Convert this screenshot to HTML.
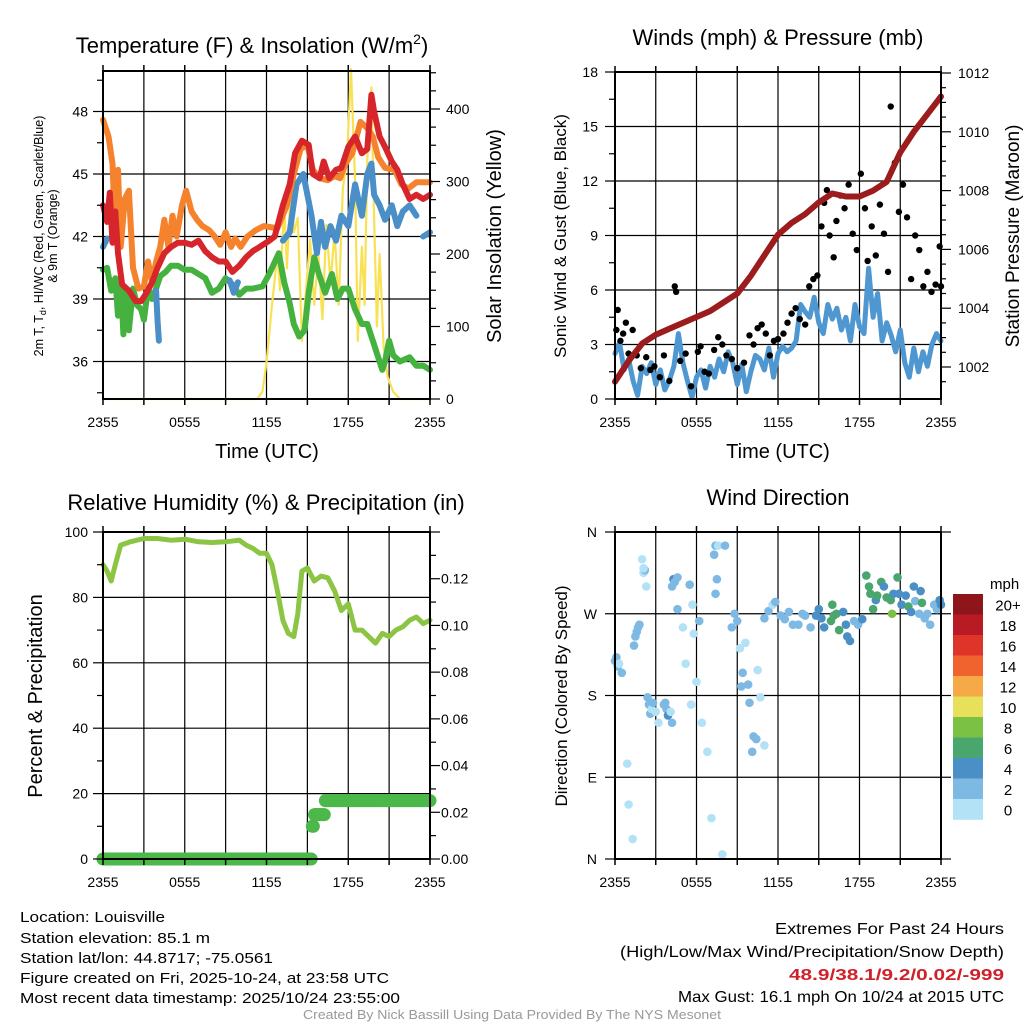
<!DOCTYPE html>
<html><head><meta charset="utf-8"><title>Mesonet Meteogram</title>
<style>
html,body{margin:0;padding:0;background:#fff;}
svg{display:block;font-family:"Liberation Sans",Arial,sans-serif;}
</style></head>
<body>
<svg id="fig" width="1024" height="1024" viewBox="0 0 1024 1024"></svg>
<script>
// ===== DATA =====
const orangeT9m = [[0,47.6],[0.4,46.8],[0.7,45.5],[0.9,42],[1.1,45.2],[1.3,41.5],[1.6,43.8],[1.9,44.2],[2.2,40.5],[2.6,39.5],[3.0,39.6],[3.3,40.8],[3.6,39.8],[3.9,40.8],[4.2,41.5],[4.5,42.8],[4.8,41.5],[5.1,43],[5.4,42],[5.8,43.5],[6.1,44.2],[6.5,43.2],[6.9,42.8],[7.3,42.5],[7.8,42.3],[8.2,42.0],[8.6,41.6],[9.0,42.2],[9.4,41.5],[9.7,41.9],[10.1,41.5],[10.6,42.0],[11.2,42.3],[11.8,42.5],[12.8,42.4],[13.5,43.5],[14.0,45],[14.5,46.2],[15.0,46.4],[15.4,45.2],[15.9,44.8],[16.5,44.7],[17.0,44.9],[17.4,44.8],[17.8,45.5],[18.3,46.0],[18.9,47.5],[19.4,47.2],[19.8,46.8],[20.2,45.8],[20.7,45.3],[21.4,45.2],[21.9,44.5],[22.4,44.3],[23,44.6],[24,44.6]];
const redT2m = [[0,43.5],[0.3,42.7],[0.5,44.1],[0.7,41.7],[0.9,43.2],[1.1,41.2],[1.4,39.7],[1.9,39.4],[2.4,38.9],[2.8,38.9],[3.2,39.3],[3.6,39.8],[4.0,40.5],[4.5,41.2],[5.0,41.5],[5.5,41.7],[6.0,41.7],[6.5,41.6],[7.0,41.8],[7.5,41.3],[8.0,41.0],[8.5,40.8],[9.0,40.8],[9.5,40.3],[10.0,40.6],[10.5,41.0],[11.0,41.3],[11.5,41.5],[12.2,41.8],[12.6,42.0],[13.2,43.5],[13.7,44.5],[14.1,46.0],[14.6,46.6],[15.1,46.4],[15.4,45.0],[15.9,44.8],[16.2,45.6],[16.6,44.8],[17.1,45.2],[17.5,45.3],[18.0,46.3],[18.5,46.8],[19.0,46.0],[19.4,46.2],[19.7,48.8],[19.9,48.0],[20.3,46.8],[20.7,46.3],[21.2,45.6],[21.6,45.2],[22.0,44.5],[22.5,43.8],[23.0,44.0],[23.5,43.8],[24,44.0]];
const greenTd = [[0,40.4],[0.3,40.5],[0.6,39.4],[0.9,40.0],[1.1,38.2],[1.3,40.0],[1.5,37.3],[1.7,39.5],[1.9,37.5],[2.2,39.5],[2.5,38.7],[2.8,38.5],[3.0,38.0],[3.3,39.5],[3.6,39.0],[3.9,39.5],[4.2,40.1],[4.6,40.3],[5.0,40.6],[5.5,40.6],[6.0,40.4],[6.5,40.4],[7.0,40.2],[7.5,40.0],[8.0,39.3],[8.5,39.5],[9.0,40.0],[9.5,39.7],[10.0,39.2],[10.5,39.5],[11.0,39.5],[11.7,39.6],[12.2,40.2],[12.9,41.2],[13.3,39.8],[13.7,38.8],[14.0,37.8],[14.4,37.2],[14.8,37.5],[15.1,39.3],[15.5,41.0],[15.8,40.3],[16.3,39.3],[16.8,40.2],[17.2,39.0],[17.6,39.5],[18.0,39.5],[18.5,38.5],[19.0,37.8],[19.4,37.8],[19.8,37.0],[20.2,36.2],[20.5,35.6],[20.7,36.0],[21.0,37.0],[21.3,36.3],[21.8,36.0],[22.5,36.2],[23.0,35.8],[23.5,35.8],[24,35.6]];
const blueHIWC = [[[0,41.5],[0.3,41.9]],[[3.9,39.4],[4.0,38.0],[4.1,37.0]],[[9.3,39.9],[9.6,39.3],[9.9,39.8]],[[13.2,41.8],[13.7,42.2],[14.2,44.5],[14.7,45.0],[15.0,44.0],[15.3,43.0],[15.7,41.2],[16.0,42.7],[16.3,41.5],[16.7,42.5],[17.1,41.8],[17.5,43.0],[18.0,42.5],[18.5,44.5],[19.0,43.0],[19.4,45.0],[19.7,45.5],[19.9,44.0],[20.3,43.5],[20.7,42.8],[21.2,43.5],[21.6,42.5],[22.0,43.2],[22.5,43.5],[23.0,43.0]],[[23.5,42.0],[24,42.2]]];
const solarRad = [[0,0],[11.3,0],[11.7,10],[12.0,50],[12.4,130],[12.8,200],[13.0,150],[13.3,270],[13.5,180],[13.8,300],[14.0,230],[14.3,250],[14.6,80],[14.9,150],[15.2,220],[15.5,130],[15.8,200],[16.1,110],[16.4,240],[16.7,160],[17.0,230],[17.3,130],[17.6,290],[17.9,330],[18.2,455],[18.5,300],[18.7,80],[19.0,210],[19.2,130],[19.4,330],[19.7,430],[19.9,250],[20.1,100],[20.3,200],[20.6,70],[20.9,30],[21.3,10],[21.8,0],[24,0]];
const tempTicks = [36,39,42,45,48];
const solarTicks = [0,100,200,300,400];
const timeTickLabels = ["2355","0555","1155","1755","2355"];
const windSpeed = [2.5,3.1,1.6,2.2,1.0,0.2,1.8,1.4,2.0,0.8,1.6,0.5,1.0,1.8,3.6,2.0,1.0,0.1,1.2,1.6,0.6,1.8,1.2,2.2,1.5,2.6,2.0,0.8,1.9,0.4,1.5,2.4,2.2,1.6,2.8,1.2,2.5,2.9,2.6,2.8,3.2,5.2,4.8,4.5,5.6,4.2,3.6,5.2,4.4,5.0,3.8,4.5,3.2,5.2,4.0,3.6,7.2,4.5,5.8,3.2,4.2,3.5,2.6,3.8,2.0,1.2,2.8,1.5,2.6,1.8,3.0,3.6,3.2];
const gustPts = [[0.1,3.8],[0.2,4.9],[0.4,3.2],[0.6,3.6],[0.8,4.2],[1.0,2.5],[1.3,3.8],[1.6,2.4],[1.9,1.7],[2.3,2.3],[2.6,1.6],[2.9,1.8],[3.3,1.2],[3.6,2.4],[4.0,1.0],[4.4,6.2],[4.5,5.9],[4.8,2.1],[5.2,2.5],[5.6,0.7],[6.1,2.6],[6.3,2.9],[6.6,1.5],[6.9,1.4],[7.3,2.7],[7.6,3.4],[7.9,3.0],[8.2,2.4],[8.6,2.2],[9.0,1.7],[9.5,2.0],[9.9,3.5],[10.2,3.0],[10.5,3.9],[10.8,4.1],[11.1,3.6],[11.4,2.4],[11.7,3.2],[12.0,3.3],[12.4,3.6],[12.7,4.2],[13.0,4.7],[13.3,5.0],[13.6,4.4],[14.0,4.1],[14.3,6.2],[14.6,6.6],[14.9,6.8],[15.2,9.5],[15.4,10.8],[15.6,11.5],[15.8,9.0],[16.1,7.8],[16.3,9.8],[16.6,11.2],[16.9,10.5],[17.2,11.8],[17.5,9.1],[17.8,8.2],[18.1,12.4],[18.4,10.5],[18.6,7.6],[18.9,9.5],[19.2,7.9],[19.5,10.7],[19.8,9.1],[20.1,7.0],[20.3,16.1],[20.6,13.0],[20.9,10.3],[21.2,11.8],[21.5,10.0],[21.8,6.6],[22.1,9.0],[22.4,8.2],[22.7,6.2],[23.0,7.0],[23.3,5.9],[23.6,6.3],[23.9,8.4],[24.0,6.2]];
const pressure = [[0,1001.5],[1,1002.2],[2,1002.8],[3,1003.1],[4,1003.3],[5,1003.5],[6,1003.7],[7,1003.9],[8,1004.2],[9,1004.5],[10,1005.1],[11,1005.8],[12,1006.5],[13,1006.9],[14,1007.2],[15,1007.6],[16,1007.9],[17,1007.8],[18,1007.8],[19,1008.0],[20,1008.3],[21,1009.3],[22,1010.0],[23,1010.6],[24,1011.2]];
const windTicks = [0,3,6,9,12,15,18];
const pressTicks = [1002,1004,1006,1008,1010,1012];
const rhSeries = [[0,90],[0.3,88],[0.6,85],[0.9,90],[1.3,96],[2,97],[3,98],[4,98],[5,97.5],[6,97.8],[7,97],[8,96.8],[9,97],[10,97.5],[10.5,96],[11,95],[11.5,93.5],[12,93.5],[12.4,90],[12.8,82],[13.2,73],[13.6,69],[14,68],[14.3,75],[14.6,88],[15,89],[15.5,85],[16,86.5],[16.5,86],[17,82],[17.5,76],[18,78],[18.5,70],[19,70],[19.5,68],[20,66],[20.5,69],[21,68],[21.5,70],[22,71],[22.5,73],[23,74],[23.5,72],[24,73]];
const precipHours = [0,15.3,15.5,16.3];
const precipVals = [0,0.014,0.019,0.025];
const rhTicks = [0,20,40,60,80,100];
const precipTicks = ["0.00","0.02","0.04","0.06","0.08","0.10","0.12"];
const dirPts = [[0,218,2.5],[0.1,222,3],[0.2,212,2.8],[0.3,215,1.5],[0.5,205,2],[1.5,245,3],[1.6,250,2.5],[1.7,255,3],[1.8,258,2],[1.4,235,3],[0.9,105,1],[1.0,60,1],[1.3,22,1],[2.0,330,1],[2.1,315,1],[2.2,318,3],[2.1,320,1],[2.3,300,1.2],[2.4,178,2],[2.5,170,3],[2.6,160,2],[2.7,165,1],[2.8,172,2],[3.0,162,1],[3.2,150,1],[3.6,170,2],[3.7,172,3],[3.8,165,3],[3.9,158,4],[4.1,162,1],[4.2,150,2],[4.2,300,3],[4.3,308,4],[4.4,305,3],[4.6,310,2],[4.6,275,3],[5.0,255,1],[5.2,215,1],[5.6,170,1],[5.5,302,3],[5.7,280,1],[5.8,248,1],[6.0,195,1],[6.2,262,2],[6.4,150,1],[6.8,118,1],[7.1,45,1],[7.4,292,3],[7.3,335,3],[7.4,345,2],[7.6,345,1],[7.5,308,2],[7.9,5,1],[8.1,345,2],[8.6,255,2],[8.8,270,2],[9.0,262,2],[9.2,232,1],[9.6,238,1],[9.4,205,3],[9.3,190,2],[9.8,192,3],[9.9,172,3],[10.2,135,2],[10.4,132,3],[10.1,118,2],[10.7,178,1],[11.0,125,1],[10.5,208,1],[11.0,265,2],[11.3,273,2],[11.6,280,1],[11.8,283,2],[12.2,268,2],[12.5,264,3],[12.8,272,2],[13.1,258,2],[13.5,258,3],[13.8,270,2],[14.0,268,3],[14.4,255,2],[14.8,268,4],[15.0,275,4],[15.2,265,4],[15.4,255,4],[15.9,262,6],[16.1,268,6],[16.0,280,6],[16.3,270,7],[16.5,252,7],[16.8,272,4],[17.0,258,4],[17.1,245,4],[17.3,240,4],[17.6,262,3],[17.9,258,3],[18.2,264,4],[18.5,312,6],[18.7,300,6],[18.8,292,6],[19.0,275,6],[19.2,285,5],[19.3,290,6],[19.6,305,6],[19.8,300,5],[20.0,288,6],[20.3,285,6],[20.5,292,5],[20.4,270,8],[20.8,310,6],[20.9,292,4],[21.1,280,4],[21.4,290,4],[21.6,278,6],[21.8,272,5],[22.1,284,3],[22.4,270,2],[22.6,282,6],[22.8,265,3],[23.0,270,3],[23.2,258,2],[23.5,280,2],[23.7,275,2],[23.9,285,4],[24.0,280,4],[22.0,300,5],[22.5,295,5]];
const speedBins = ["0","2","4","6","8","10","12","14","16","18","20+"];
const binColors = ["#b3e2f7","#7db9e3","#4a8fc6","#49a66d","#7bc144","#e7e05a","#f5a947","#f0632e","#de3429","#b91b24","#8e1519"];
const dirLabels = ["N","E","S","W","N"];

// ===== DRAW =====
const NS="http://www.w3.org/2000/svg";
const svg=document.getElementById('fig');
function mk(tag,attrs,parent){const e=document.createElementNS(NS,tag);for(const k in attrs)e.setAttribute(k,attrs[k]);(parent||svg).appendChild(e);return e;}
function txt(s,x,y,size,anchor,parent,extra){const t=mk('text',Object.assign({x:x,y:y,'font-size':size,'text-anchor':anchor||'start',fill:'#000'},extra||{}),parent);t.textContent=s;return t;}
function panel(x0,x1,y0,y1){return {x0,x1,y0,y1,X:h=>x0+(x1-x0)*h/24};}
function lin(v0,v1,p0,p1){return v=>p0+(v-v0)*(p1-p0)/(v1-v0);}

function frame(P,name,hLines){
  const g=mk('g',{});
  
  
  for(let i=1;i<8;i++){const x=P.X(i*3);mk('line',{x1:x,x2:x,y1:P.y0,y2:P.y1,stroke:'#000','stroke-width':1.2},g);}
  hLines.forEach(y=>{mk('line',{x1:P.x0,x2:P.x1,y1:y,y2:y,stroke:'#000','stroke-width':1.2},g);});
  return g;
}
function border(P,name){
  const r=mk('rect',{x:P.x0,y:P.y0,width:P.x1-P.x0,height:P.y1-P.y0,fill:'none',stroke:'#000','stroke-width':2});
  
  
  for(let i=0;i<=8;i++){const x=P.X(i*3);mk('line',{x1:x,x2:x,y1:P.y1,y2:P.y1+6,stroke:'#000','stroke-width':1.5});mk('line',{x1:x,x2:x,y1:P.y0,y2:P.y0-6,stroke:'#000','stroke-width':1.5});}
}
function timeLabels(P,name){
  const g=mk('g',{});
  
  
  timeTickLabels.forEach((s,i)=>txt(s,P.X(i*6),P.y1+28,14,'middle',g));
}
function polyline(pts,P,fy,color,w,name){
  const d=pts.map((p,i)=>(i?'L':'M')+P.X(p[0]).toFixed(1)+','+fy(p[1]).toFixed(1)).join('');
  const path=mk('path',{d:d,fill:'none',stroke:color,'stroke-width':w,'stroke-linejoin':'round','stroke-linecap':'round'});
  
  
  return path;
}

// ---------- Panel 1 ----------
const P1=panel(103,430,71,399);
const fT=lin(36,48,361.5,111.5);
const fS=lin(0,400,399,109);
frame(P1,'temperature',tempTicks.map(fT));
polyline(solarRad,P1,fS,'#f9e154',2.2,'solar-insolation-line');
polyline(greenTd,P1,fT,'#45b23f',6,'dewpoint-line');
blueHIWC.forEach((seg,i)=>polyline(seg,P1,fT,'#4a8fc8',6,'heat-index-wind-chill-line'));
polyline(orangeT9m,P1,fT,'#f5822d',6,'temperature-9m-line');
polyline(redT2m,P1,fT,'#d7262b',6,'temperature-2m-line');
border(P1,'temperature');
{
  const g=mk('g',{});
  for(let v=34.5;v<=49.5;v+=1.5){const y=fT(v);if(y<P1.y0||y>P1.y1)continue;const major=tempTicks.includes(v);mk('line',{x1:P1.x0-(major?10:6),x2:P1.x0,y1:y,y2:y,stroke:'#000','stroke-width':1.2},g);}
  tempTicks.forEach(v=>txt(String(v),88,fT(v)+5,14,'end',g));
  const g2=mk('g',{});
  for(let v=0;v<=450;v+=25){const y=fS(v);if(y<P1.y0)continue;const major=v%100===0;mk('line',{x1:P1.x1,x2:P1.x1+(major?10:6),y1:y,y2:y,stroke:'#000','stroke-width':1.2},g2);}
  solarTicks.forEach(v=>txt(String(v),446,fS(v)+5,14,'start',g2));
}
timeLabels(P1,'temperature');
{
  const t=txt('Temperature (F) & Insolation (W/m',252,53,22,'middle');
  const ts=mk('tspan',{'font-size':14,dy:-9},t);ts.textContent='2';
  const ts2=mk('tspan',{dy:9},t);ts2.textContent=')';
  const xl=txt('Time (UTC)',267,458,20,'middle');
  const yl=mk('text',{transform:'translate(43,236) rotate(-90)','font-size':12.5,'text-anchor':'middle'});
  
  yl.innerHTML='2m T, T<tspan font-size="9" dy="3">d</tspan><tspan dy="-3">, HI/WC (Red, Green, Scarlet/Blue)</tspan>';
  const yl2=txt('& 9m T (Orange)',0,0,12.5,'middle',null,{transform:'translate(57,236) rotate(-90)'});
  
  const yr=txt('Solar Insolation (Yellow)',0,0,20,'middle',null,{transform:'translate(501,236) rotate(-90)'});
  
}

// ---------- Panel 2 ----------
const P2=panel(615,941,72,399);
const fW=lin(0,18,399,72);
const fP=lin(1002,1012,367,73);
frame(P2,'winds',windTicks.map(fW));
{
  const wpts=windSpeed.map((v,i)=>[i/3,v]);
  polyline(wpts,P2,fW,'#4f97d1',5,'sonic-wind-line');
  const g=mk('g',{});
  gustPts.forEach(p=>{const c=mk('circle',{cx:P2.X(p[0]),cy:fW(p[1]),r:3.2,fill:'#000'},g);
    });
  polyline(pressure,P2,fP,'#9c1b1d',6,'station-pressure-line');
}
border(P2,'winds');
{
  const g=mk('g',{});
  for(let v=0;v<=18;v+=1.5){const y=fW(v);const major=v%3===0;mk('line',{x1:P2.x0-(major?10:6),x2:P2.x0,y1:y,y2:y,stroke:'#000','stroke-width':1.2},g);}
  windTicks.forEach(v=>txt(String(v),598,fW(v)+5,14,'end',g));
  const g2=mk('g',{});
  for(let v=1001.5;v<=1012;v+=0.5){const y=fP(v);if(y>P2.y1||y<P2.y0-1)continue;const major=v%2===0;mk('line',{x1:P2.x1,x2:P2.x1+(major?10:5),y1:y,y2:y,stroke:'#000','stroke-width':1.2},g2);}
  pressTicks.forEach(v=>txt(String(v),958,fP(v)+5,14,'start',g2));
}
timeLabels(P2,'winds');
{
  const t=txt('Winds (mph) & Pressure (mb)',778,45,22,'middle');
  const xl=txt('Time (UTC)',778,458,20,'middle');
  const yl=txt('Sonic Wind & Gust (Blue, Black)',0,0,17,'middle',null,{transform:'translate(566,236) rotate(-90)'});
  
  const yr=txt('Station Pressure (Maroon)',0,0,19,'middle',null,{transform:'translate(1019,236) rotate(-90)'});
  
}

// ---------- Panel 3 ----------
const P3=panel(103,430,532,859);
const fR=lin(0,100,859,532);
const fPr=lin(0,0.14,859,532);
frame(P3,'humidity',rhTicks.map(fR));
{
  const g=mk('g',{});
  for(let h=0;h<=24.001;h+=0.08){
    let v=precipVals[0];for(let i=0;i<precipHours.length;i++){if(h>=precipHours[i])v=precipVals[i];}
    const c=mk('circle',{cx:P3.X(h),cy:fPr(v),r:6.5,fill:'#4cb84a'},g);
    
  }
  polyline(rhSeries,P3,fR,'#8cc444',5,'relative-humidity-line');
}
border(P3,'humidity');
{
  const g=mk('g',{});
  for(let v=0;v<=100;v+=10){const y=fR(v);const major=v%20===0;mk('line',{x1:P3.x0-(major?10:6),x2:P3.x0,y1:y,y2:y,stroke:'#000','stroke-width':1.2},g);}
  rhTicks.forEach(v=>txt(String(v),88,fR(v)+5,14,'end',g));
  const g2=mk('g',{});
  for(let v=0;v<=0.14;v+=0.01){const y=fPr(v);const major=Math.round(v*100)%2===0;mk('line',{x1:P3.x1,x2:P3.x1+(major?10:6),y1:y,y2:y,stroke:'#000','stroke-width':1.2},g2);}
  precipTicks.forEach(s=>txt(s,441,fPr(parseFloat(s))+5,14,'start',g2));
}
timeLabels(P3,'humidity');
{
  const t=txt('Relative Humidity (%) & Precipitation (in)',266,510,22,'middle');
  const yl=txt('Percent & Precipitation',0,0,20,'middle',null,{transform:'translate(42,696) rotate(-90)'});
  
}

// ---------- Panel 4 ----------
const P4=panel(615,941,532,859);
const fD=lin(0,360,859,532);
frame(P4,'wind-direction',[0,90,180,270,360].map(fD));
{
  const g=mk('g',{});
  dirPts.forEach(p=>{const bin=Math.min(10,Math.floor(p[2]/2));
    const c=mk('circle',{cx:P4.X(p[0]),cy:fD(p[1]),r:4.3,fill:binColors[bin]},g);
    });
}
border(P4,'wind-direction');
{
  const g=mk('g',{});
  dirLabels.forEach((s,i)=>{const y=fD(i*90);mk('line',{x1:P4.x0-10,x2:P4.x0,y1:y,y2:y,stroke:'#000','stroke-width':1.2},g);txt(s,597,y+5,14,'end',g);});
  dirLabels.forEach((s,i)=>{const y=fD(i*90);mk('line',{x1:P4.x1,x2:P4.x1+10,y1:y,y2:y,stroke:'#000','stroke-width':1.2},g);});
}
timeLabels(P4,'wind-direction');
{
  const t=txt('Wind Direction',778,505,22,'middle');
  const yl=txt('Direction (Colored By Speed)',0,0,17,'middle',null,{transform:'translate(567,696) rotate(-90)'});
  
  const lg=mk('g',{});
  txt('mph',990,589,15,'start',lg);
  const top=594,bh=20.5;
  for(let i=10;i>=0;i--){const y=top+(10-i)*bh;
    const r=mk('rect',{x:953,y:y,width:30,height:bh+0.3,fill:binColors[i]},lg);
    
    txt(speedBins[i],1008,y+bh/2+6,15,'middle',lg);}
}

// ---------- Footer ----------
{
  const g=mk('g',{});
  const L=[["Location: Louisville",922,145],["Station elevation: 85.1 m",943,190],["Station lat/lon: 44.8717; -75.0561",963,253],["Figure created on Fri, 2025-10-24, at 23:58 UTC",983,369],["Most recent data timestamp: 2025/10/24 23:55:00",1003,380]];
  L.forEach(l=>txt(l[0],20,l[1],15,'start',g,{textLength:l[2],lengthAdjust:'spacingAndGlyphs'}));
  const g2=mk('g',{});
  txt('Extremes For Past 24 Hours',1004,934,16,'end',g2,{textLength:229,lengthAdjust:'spacingAndGlyphs'});
  txt('(High/Low/Max Wind/Precipitation/Snow Depth)',1004,957,16,'end',g2,{textLength:384,lengthAdjust:'spacingAndGlyphs'});
  txt('48.9/38.1/9.2/0.02/-999',1004,980,16,'end',g2,{fill:'#d0202a','font-weight':'bold',textLength:215,lengthAdjust:'spacingAndGlyphs'});
  txt('Max Gust: 16.1 mph On 10/24 at 2015 UTC',1004,1002,16,'end',g2,{textLength:326,lengthAdjust:'spacingAndGlyphs'});
  const f=txt('Created By Nick Bassill Using Data Provided By The NYS Mesonet',512,1019,12.5,'middle',null,{fill:'#999',textLength:418,lengthAdjust:'spacingAndGlyphs'});
  
}
</script>
</body></html>
